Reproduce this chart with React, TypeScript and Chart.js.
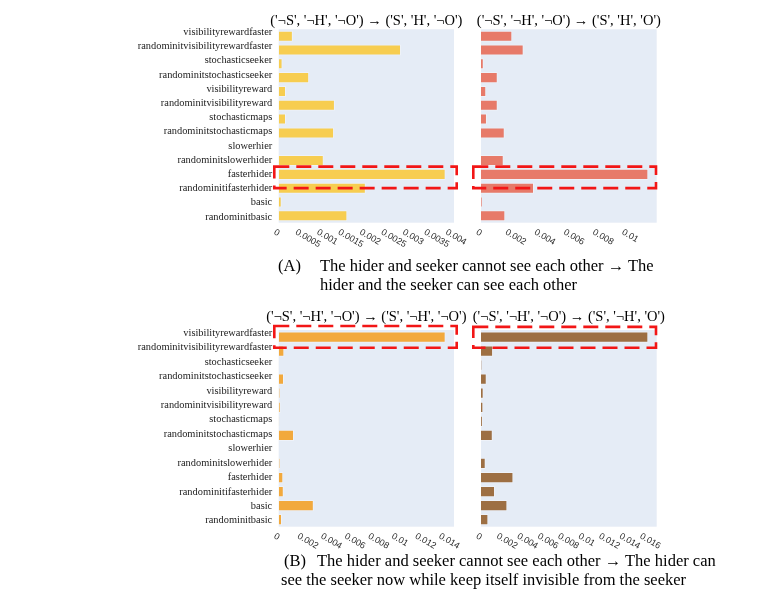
import React, { useEffect, useRef } from "react";
import { Chart, registerables } from "chart.js";

Chart.register(...registerables);

const W = 761;
const H = 591;

const categories = [
  "visibilityrewardfaster",
  "randominitvisibilityrewardfaster",
  "stochasticseeker",
  "randominitstochasticseeker",
  "visibilityreward",
  "randominitvisibilityreward",
  "stochasticmaps",
  "randominitstochasticmaps",
  "slowerhier",
  "randominitslowerhider",
  "fasterhider",
  "randominitifasterhider",
  "basic",
  "randominitbasic",
];

// (A) left: ('¬S','¬H','¬O') -> ('S','H','¬O')
const valuesA1 = [0.00033, 0.00285, 0.00009, 0.00071, 0.00017, 0.00131, 0.00017, 0.00129, 0, 0.00105, 0.00389, 0.00203, 0.00007, 0.0016];
// (A) right: ('¬S','¬H','¬O') -> ('S','H','O')
const valuesA2 = [0.00215, 0.00293, 0.00019, 0.00115, 0.00036, 0.00115, 0.00041, 0.00163, 0, 0.00156, 0.01149, 0.00364, 0.00009, 0.00167];
// (B) left: ('¬S','¬H','¬O') -> ('S','¬H','¬O')
const valuesB1 = [0.01417, 0.00048, 0.00002, 0.00045, 0.00011, 0.00017, 0.00006, 0.0013, 0, 0.00011, 0.00039, 0.00043, 0.00298, 0.00028];
// (B) right: ('¬S','¬H','¬O') -> ('S','¬H','O')
const valuesB2 = [0.01636, 0.00118, 0.00007, 0.00056, 0.00026, 0.00023, 0.00017, 0.00115, 0, 0.00046, 0.00317, 0.00137, 0.00258, 0.00072];

const ticksA1 = [0, 0.0005, 0.001, 0.0015, 0.002, 0.0025, 0.003, 0.0035, 0.004];
const tickLabelsA1 = ["0", "0.0005", "0.001", "0.0015", "0.002", "0.0025", "0.003", "0.0035", "0.004"];
const ticksA2 = [0, 0.002, 0.004, 0.006, 0.008, 0.01];
const tickLabelsA2 = ["0", "0.002", "0.004", "0.006", "0.008", "0.01"];
const ticksB1 = [0, 0.002, 0.004, 0.006, 0.008, 0.01, 0.012, 0.014];
const tickLabelsB1 = ["0", "0.002", "0.004", "0.006", "0.008", "0.01", "0.012", "0.014"];
const ticksB2 = [0, 0.002, 0.004, 0.006, 0.008, 0.01, 0.012, 0.014, 0.016];
const tickLabelsB2 = ["0", "0.002", "0.004", "0.006", "0.008", "0.01", "0.012", "0.014", "0.016"];

const titleA1 = "('¬S', '¬H', '¬O') → ('S', 'H', '¬O')";
const titleA2 = "('¬S', '¬H', '¬O') → ('S', 'H', 'O')";
const titleB1 = "('¬S', '¬H', '¬O') → ('S', '¬H', '¬O')";
const titleB2 = "('¬S', '¬H', '¬O') → ('S', '¬H', 'O')";

const PLOT_BG = "#E5ECF6";
const SERIF = '"Liberation Serif", "Times New Roman", serif';
const SANS = '"Liberation Sans", Arial, sans-serif';

type Panel = {
  title: string;
  values: number[];
  color: string;
  ticks: number[];
  tickLabels: string[];
  showLabels: boolean;
  area: { left: number; right: number; top: number; bottom: number };
  titleDy: number;
  rect: { row: number; l: number; r: number; t: number; b: number };
};

const panels: Panel[] = [
  {
    title: titleA1, values: valuesA1, color: "#F7CD50", ticks: ticksA1, tickLabels: tickLabelsA1, showLabels: true,
    area: { left: 278.7, right: 454, top: 29.3, bottom: 222.7 }, titleDy: -8.5,
    rect: { row: 10, l: -4.4, r: 2.7, t: -0.56, b: 1.0 },
  },
  {
    title: titleA2, values: valuesA2, color: "#E77A69", ticks: ticksA2, tickLabels: tickLabelsA2, showLabels: false,
    area: { left: 481, right: 656.7, top: 29.3, bottom: 222.7 }, titleDy: -8.5,
    rect: { row: 10, l: -7.7, r: -0.7, t: -0.56, b: 1.0 },
  },
  {
    title: titleB1, values: valuesB1, color: "#F2A93D", ticks: ticksB1, tickLabels: tickLabelsB1, showLabels: true,
    area: { left: 278.7, right: 454, top: 330, bottom: 526.7 }, titleDy: -13,
    rect: { row: 0, l: -4.4, r: 2.7, t: -0.78, b: 0.76 },
  },
  {
    title: titleB2, values: valuesB2, color: "#9D6F43", ticks: ticksB2, tickLabels: tickLabelsB2, showLabels: false,
    area: { left: 481, right: 656.7, top: 330, bottom: 526.7 }, titleDy: -13,
    rect: { row: 0, l: -7.7, r: -0.7, t: -0.72, b: 0.76 },
  },
];

function makeDecor(p: Panel, idx: number) {
  return {
    id: "decor" + idx,
    beforeDraw(chart: any) {
      const { ctx, chartArea: a } = chart;
      ctx.save();
      ctx.fillStyle = PLOT_BG;
      ctx.fillRect(a.left, a.top, a.right - a.left, a.bottom - a.top);
      ctx.restore();
    },
    afterDraw(chart: any) {
      const { ctx, chartArea: a, scales } = chart;
      const xs = scales.x;
      const ys = scales.y;
      ctx.save();
      if (p.showLabels) {
        ctx.font = `10.4px ${SERIF}`;
        ctx.fillStyle = "#1a1a1a";
        ctx.textAlign = "right";
        ctx.textBaseline = "alphabetic";
        categories.forEach((c, i) => {
          const y = ys.getPixelForValue(i) + 1.3 + (i - 6.5) * 0.38;
          ctx.fillText(c, a.left - 6.5, y);
        });
      }
      ctx.font = `9px ${SANS}`;
      ctx.fillStyle = "#2a2a2a";
      p.ticks.forEach((v, i) => {
        const x = xs.getPixelForValue(v);
        ctx.save();
        ctx.translate(x - 2, a.bottom + 5);
        ctx.rotate(Math.PI / 6);
        ctx.textAlign = "left";
        ctx.textBaseline = "top";
        ctx.fillText(p.tickLabels[i], 0, 0);
        ctx.restore();
      });
      ctx.font = `14.5px ${SERIF}`;
      ctx.fillStyle = "#000";
      ctx.textAlign = "center";
      ctx.textBaseline = "middle";
      ctx.fillText(p.title, (a.left + a.right) / 2, a.top + p.titleDy);
      const rowH = Math.abs(ys.getPixelForValue(1) - ys.getPixelForValue(0));
      const cy = ys.getPixelForValue(p.rect.row);
      const x0 = a.left + p.rect.l;
      const x1 = a.right + p.rect.r;
      const y0 = cy + p.rect.t * rowH;
      const y1 = cy + p.rect.b * rowH;
      ctx.setLineDash([15, 7]);
      ctx.lineWidth = 2.6;
      ctx.strokeStyle = "#F21616";
      ctx.strokeRect(x0, y0, x1 - x0, y1 - y0);
      ctx.restore();
    },
  };
}

function PanelChart({ p, idx }: { p: Panel; idx: number }) {
  const ref = useRef<HTMLCanvasElement | null>(null);
  useEffect(() => {
    if (!ref.current) return;
    const maxV = Math.max(...p.values) * 1.05;
    const chart = new Chart(ref.current, {
      type: "bar",
      data: {
        labels: categories,
        datasets: [
          {
            data: p.values,
            backgroundColor: p.color,
            borderColor: "rgba(255,255,255,0.35)",
            borderWidth: 1,
            barPercentage: 0.8,
            categoryPercentage: 1,
          },
        ],
      },
      options: {
        indexAxis: "y",
        animation: false,
        responsive: false,
        maintainAspectRatio: false,
        events: [],
        layout: {
          padding: {
            left: p.area.left,
            right: W - p.area.right,
            top: p.area.top,
            bottom: H - p.area.bottom,
          },
        },
        plugins: { legend: { display: false }, tooltip: { enabled: false }, title: { display: false } },
        scales: {
          x: { type: "linear", display: false, min: 0, max: maxV },
          y: { type: "category", display: false, offset: true },
        },
      },
      plugins: [makeDecor(p, idx)],
    } as any);
    return () => chart.destroy();
  }, [p, idx]);
  return (
    <canvas
      ref={ref}
      width={W}
      height={H}
      style={{ position: "absolute", left: 0, top: 0, width: W, height: H }}
    />
  );
}

const capStyle: React.CSSProperties = {
  position: "absolute",
  fontFamily: SERIF,
  fontSize: 16.5,
  lineHeight: "20px",
  whiteSpace: "nowrap",
  color: "#000",
};

function Cap({ x, y, text }: { x: number; y: number; text: string }) {
  return <div style={{ ...capStyle, left: x, top: y - 10 }}>{text}</div>;
}

export default function App() {
  return (
    <div style={{ position: "absolute", left: 0, top: 0, width: W, height: H, background: "#fff", overflow: "hidden" }}>
      {panels.map((p, i) => (
        <PanelChart key={i} p={p} idx={i} />
      ))}
      <Cap x={278} y={266} text="(A)" />
      <Cap x={320} y={266} text="The hider and seeker cannot see each other → The" />
      <Cap x={320} y={285} text="hider and the seeker can see each other" />
      <Cap x={284} y={561} text="(B)" />
      <Cap x={317} y={561} text="The hider and seeker cannot see each other → The hider can" />
      <Cap x={281} y={580} text="see the seeker now while keep itself invisible from the seeker" />
    </div>
  );
}
